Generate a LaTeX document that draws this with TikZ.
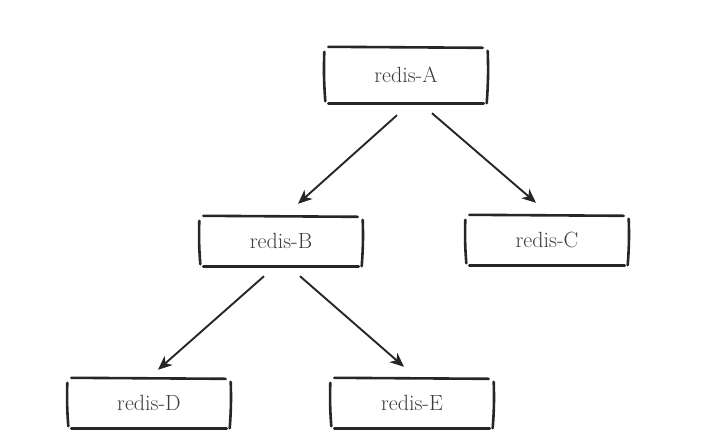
\documentclass[tikz,border=0pt]{standalone}
\usetikzlibrary{arrows.meta}
\definecolor{ink}{HTML}{262626}
\definecolor{textgray}{HTML}{3C3C3C}
\tikzset{
  sketchbox/.style={minimum width=163pt, minimum height=50pt, inner sep=0pt,
    text=textgray, font=\fontsize{22}{26}\selectfont},
  stroke/.style={line width=2.6pt, ink, line cap=round},
  arr/.style={-{Stealth[length=14pt,width=12pt,inset=4pt]}, line width=1.9pt, ink},
}
\begin{document}
\begin{tikzpicture}[x=1pt,y=-1pt]
\useasboundingbox (0,0) rectangle (711,442);
\node[sketchbox, minimum height=56pt] (redisA) at (406,75) {redis-A};
\node[sketchbox] (redisB) at (281,241) {redis-B};
\node[sketchbox] (redisC) at (547,240) {redis-C};
\node[sketchbox] (redisD) at (149,403) {redis-D};
\node[sketchbox] (redisE) at (412,403) {redis-E};
% hand drawn outlines
\foreach \n in {redisA,redisB,redisC,redisD,redisE}{
  \draw[stroke] ([shift={(4,0)}]\n.north west) -- ([shift={(-5,1)}]\n.north east);
  \draw[stroke] ([shift={(4,0)}]\n.south west) -- ([shift={(-4,0)}]\n.south east);
  \draw[stroke] ([shift={(0,5)}]\n.north west) to[bend right=3] ([shift={(1,-2)}]\n.south west);
  \draw[stroke] ([shift={(0,4)}]\n.north east) to[bend left=3] ([shift={(-1,0)}]\n.south east);
}
\draw[arr] ([shift={(-9,12)}]redisA.south) -- ([shift={(17,-12)}]redisB.north);
\draw[arr] ([shift={(26,10)}]redisA.south) -- ([shift={(-11,-12)}]redisC.north);
\draw[arr] ([shift={(-17,10)}]redisB.south) -- ([shift={(9,-8)}]redisD.north);
\draw[arr] ([shift={(19,10)}]redisB.south) -- ([shift={(-8,-11)}]redisE.north);
\end{tikzpicture}
\end{document}
